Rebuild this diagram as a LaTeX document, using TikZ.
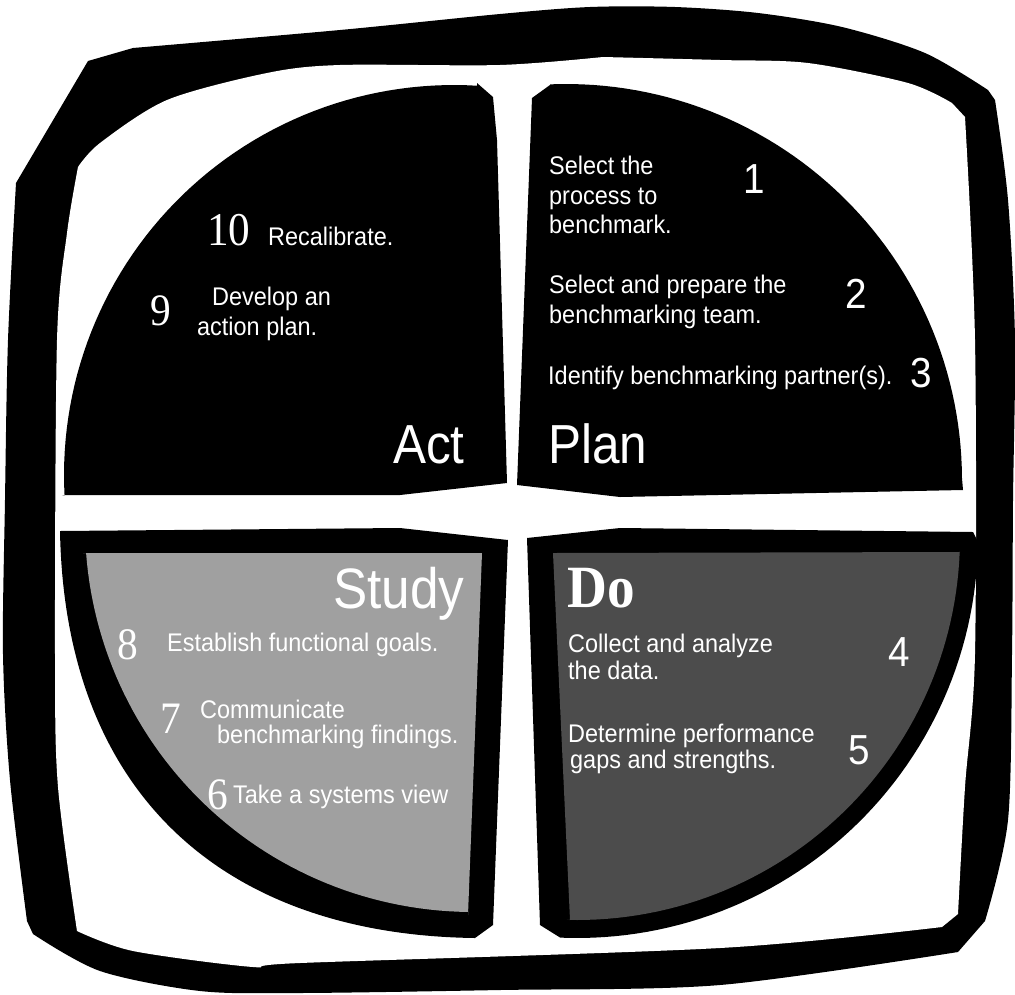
\documentclass[tikz,border=0pt]{standalone}
\usepackage{fontspec}
\setmainfont{Liberation Sans}[FakeStretch=0.92]
\newfontfamily\lblsans{Liberation Sans}[FakeStretch=0.9]
\newfontfamily\numserif{Liberation Serif}[FakeStretch=0.92]
\definecolor{studygray}{HTML}{A0A0A0}
\definecolor{dogray}{HTML}{4C4C4C}
\tikzset{
  body/.style={text=white, anchor=base west, inner sep=0pt, font=\fontsize{25.5}{30}\selectfont},
  snum/.style={text=white, anchor=base west, inner sep=0pt, font=\fontsize{42}{42}\selectfont},
  rnum/.style={text=white, anchor=base west, inner sep=0pt, font=\numserif\fontsize{45}{45}\selectfont},
  biglbl/.style={text=white, anchor=base west, inner sep=0pt, font=\lblsans\fontsize{55}{55}\selectfont},
}
\begin{document}
\begin{tikzpicture}[x=1pt,y=-1pt]
\useasboundingbox (0,0) rectangle (1015,994);
% outer frame
\fill[black] (88,61) -- (133,48)
  -- plot[smooth] coordinates {(133,48) (340,30) (500,14) (590,7) (675,7) (758,13) (842,27) (925,53) (988,90)}
  -- (995,100)
  -- plot[smooth] coordinates {(995,100) (1008,200) (1015,340) (1013,500) (1012,654) (1008,820) (985,921)}
  -- (958,952)
  -- plot[smooth] coordinates {(958,952) (720,985) (500,990) (300,993) (200,991) (100,971) (33,934)}
  -- (27,921)
  -- plot[smooth] coordinates {(27,921) (10,780) (3,654) (5,500) (8,340) (16,183)}
  -- cycle;
\fill[white] (78,167)
  -- plot[smooth] coordinates {(78,167) (100,143) (167,100) (267,73) (340,65) (500,65) (603,57)}
  -- plot[smooth] coordinates {(603,57) (720,60) (808,63) (908,83) (952,103)}
  -- (965,117)
  -- plot[smooth] coordinates {(965,117) (975,340) (975,654) (965,787) (958,914)}
  -- (942,927)
  -- plot[smooth] coordinates {(942,927) (720,948) (300,963) (253,967) (133,951) (77,931)}
  -- plot[smooth] coordinates {(77,931) (58,787) (55,654) (57,340) (67,233) (78,167)}
  -- cycle;
% Act
\fill[black] (477,83) -- (493,97) -- (497,140) -- (507,483) -- (400,495) -- (62,495)
  -- plot[domain=177:273.4, samples=60] ({454+390*cos(\x)},{475+390*sin(\x)})
  -- cycle;
% Plan
\fill[black] (550,85) -- (532,98) -- (517,485) -- (620,497) -- (963,490)
  -- plot[domain=359.7:267.7, samples=60] ({566+396*cos(\x)},{480+396*sin(\x)})
  -- cycle;
% Study
\fill[black] (60,531) -- (400,528) -- (508,540) -- (493,925) -- (475,938)
  .. controls (230,935) and (65,800) .. (60,531) -- cycle;
\fill[studygray] (83,553) -- (482,553) -- (468,915)
  -- plot[domain=90.7:175.7, samples=60] ({473+388*cos(\x)},{524+388*sin(\x)})
  -- cycle;
% Do
\fill[black] (527,538) -- (620,528) -- (973,532) -- (977,540)
  -- plot[domain=0.4:92.4, samples=60] ({577+401*cos(\x)},{537+401*sin(\x)})
  -- (540,925) -- cycle;
\fill[dogray] (553,553) -- (960,552)
  -- plot[domain=2.2:91.5, samples=60] ({577+383*cos(\x)},{537+383*sin(\x)})
  -- (570,920) -- cycle;
% Act texts
\node[rnum, font=\numserif\fontsize{47}{47}\selectfont] (n10) at (207,245) {10};
\node[body] (t10) at (268,245) {Recalibrate.};
\node[rnum] (n9) at (150,325) {9};
\node[body] (t9a) at (212,305) {Develop an};
\node[body] (t9b) at (197,335) {action plan.};
\node[biglbl] (act) at (393,463) {Act};
% Plan texts
\node[body] (t1a) at (549,174) {Select the};
\node[body] (t1b) at (549,204) {process to};
\node[body] (t1c) at (549,233) {benchmark.};
\node[snum] (n1) at (743,193) {1};
\node[body] (t2a) at (549,293) {Select and prepare the};
\node[body] (t2b) at (549,323) {benchmarking team.};
\node[snum] (n2) at (845,308) {2};
\node[body] (t3) at (548,384) {Identify benchmarking partner(s).};
\node[snum] (n3) at (910,387) {3};
\node[biglbl] (plan) at (548,463) {Plan};
% Study texts
\node[biglbl, font=\lblsans\fontsize{57}{57}\selectfont] (study) at (333,608) {Study};
\node[rnum] (n8) at (117,659) {8};
\node[body] (t8) at (167,651) {Establish functional goals.};
\node[rnum] (n7) at (160,733) {7};
\node[body] (t7a) at (200,718) {Communicate};
\node[body] (t7b) at (217,743) {benchmarking findings.};
\node[rnum] (n6) at (207,809) {6};
\node[body] (t6) at (233,803) {Take a systems view};
% Do texts
\node[biglbl, font=\numserif\bfseries\fontsize{60}{60}\selectfont] (do) at (567,607) {Do};
\node[body] (t4a) at (568,652) {Collect and analyze};
\node[body] (t4b) at (568,679) {the data.};
\node[snum] (n4) at (888,666) {4};
\node[body] (t5a) at (568,742) {Determine performance};
\node[body] (t5b) at (570,768) {gaps and strengths.};
\node[snum] (n5) at (848,764) {5};
\end{tikzpicture}
\end{document}
